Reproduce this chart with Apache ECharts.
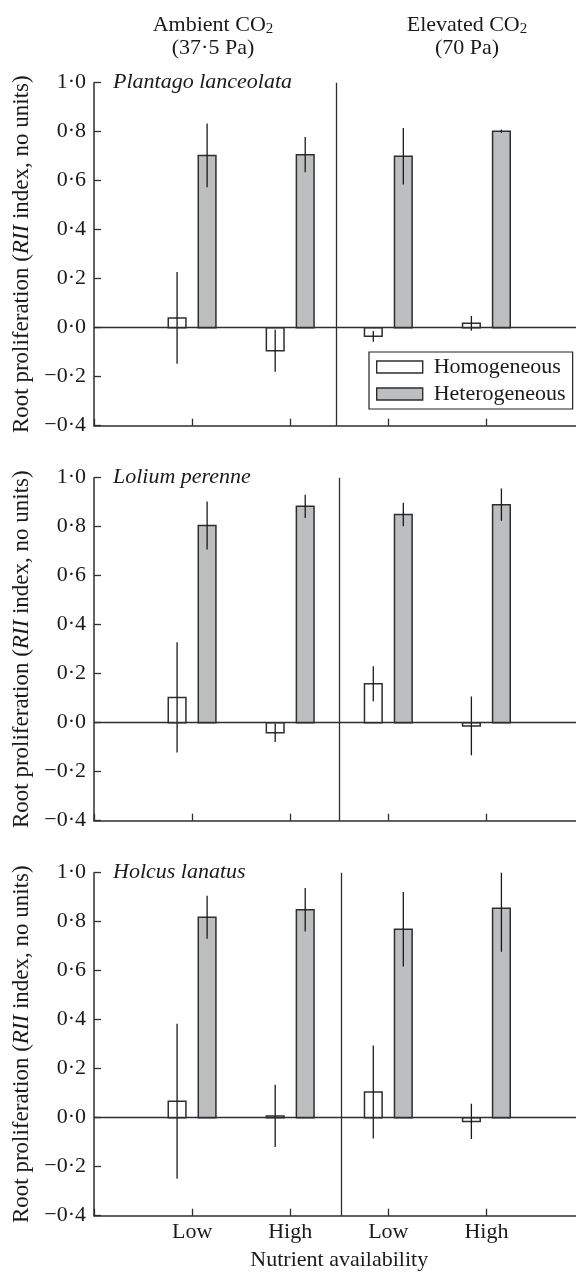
<!DOCTYPE html>
<html>
<head>
<meta charset="utf-8">
<script src="https://cdn.jsdelivr.net/npm/echarts@6/dist/echarts.min.js"></script>
<style>
html,body{margin:0;padding:0;background:#fff;}
#chart{width:576px;height:1273px;}
</style>
</head>
<body>
<div id="chart"></div>
<script>
// ---------- data ----------
const species = ['Plantago lanceolata', 'Lolium perenne', 'Holcus lanatus'];
const xLabels = ['Low', 'High', 'Low', 'High'];
const xPositions = [1, 2, 3, 4];
const yTicks = [-0.4, -0.2, 0, 0.2, 0.4, 0.6, 0.8, 1.0];
const yTickLabels = ['\u22120\u00b74', '\u22120\u00b72', '0\u00b70', '0\u00b72', '0\u00b74', '0\u00b76', '0\u00b78', '1\u00b70'];
const seriesNames = ['Homogeneous', 'Heterogeneous'];
const headers = [['Ambient CO', '(37\u00b75 Pa)'], ['Elevated CO', '(70 Pa)']];

const plantagoHomo    = [0.040, -0.094, -0.035, 0.018];
const plantagoHomoErr = [0.187, 0.086, 0.022, 0.030];
const plantagoHet     = [0.703, 0.706, 0.700, 0.802];
const plantagoHetErr  = [0.130, 0.072, 0.115, 0.007];

const loliumHomo    = [0.103, -0.041, 0.159, -0.013];
const loliumHomoErr = [0.225, 0.038, 0.071, 0.120];
const loliumHet     = [0.805, 0.883, 0.850, 0.890];
const loliumHetErr  = [0.098, 0.047, 0.048, 0.066];

const holcusHomo    = [0.067, 0.007, 0.105, -0.015];
const holcusHomoErr = [0.316, 0.127, 0.190, 0.072];
const holcusHet     = [0.818, 0.849, 0.769, 0.855];
const holcusHetErr  = [0.088, 0.089, 0.152, 0.178];

const dividerX = [2.47, 2.50, 2.52];

const panels = [
  [plantagoHomo, plantagoHomoErr, plantagoHet, plantagoHetErr],
  [loliumHomo, loliumHomoErr, loliumHet, loliumHetErr],
  [holcusHomo, holcusHomoErr, holcusHet, holcusHetErr]
];

// ---------- layout / style ----------
const FONT = 'Liberation Serif';
const INK = '#1a1a1a';
const AXIS = '#2e2e2e';
const HET_FILL = '#bdbebf';
const gridLeft = 94, gridWidth = 490.5, gridHeight = 343;
const gridTops = [82.7, 477.7, 872.7];
const Y_MIN = -0.4, Y_MAX = 1.0;
const barOffset = 0.153, barHalf = 0.09;

function yFmt(v) {
  const i = yTicks.findIndex(t => Math.abs(t - v) < 1e-6);
  return i >= 0 ? yTickLabels[i] : '';
}
function xFmt(v) {
  const i = xPositions.indexOf(Math.round(v));
  return (i >= 0 && Math.abs(v - xPositions[i]) < 1e-6) ? xLabels[i] : '';
}

function renderBar(fill) {
  return function (params, api) {
    const x = api.value(0), v = api.value(1), e = api.value(2);
    const pA = api.coord([x - barHalf, v]);
    const pB = api.coord([x + barHalf, 0]);
    const eTop = api.coord([x, Math.min(v + e, Y_MAX)]);
    const eBot = api.coord([x, Math.max(v - e, Y_MIN)]);
    return {
      type: 'group',
      children: [
        {
          type: 'rect',
          shape: {
            x: pA[0], y: Math.min(pA[1], pB[1]),
            width: pB[0] - pA[0], height: Math.abs(pB[1] - pA[1])
          },
          style: { fill: fill, stroke: AXIS, lineWidth: 1.5 }
        },
        {
          type: 'line',
          shape: { x1: eTop[0], y1: eTop[1], x2: eBot[0], y2: eBot[1] },
          style: { stroke: INK, lineWidth: 1.3 }
        }
      ]
    };
  };
}

const grids = [], xAxes = [], yAxes = [], series = [], graphics = [];

panels.forEach((p, k) => {
  grids.push({ left: gridLeft, top: gridTops[k], width: gridWidth, height: gridHeight, outerBoundsMode: 'none', containLabel: false });
  const last = k === panels.length - 1;
  xAxes.push({
    gridIndex: k, type: 'value', min: 0, max: 5, interval: 1, position: 'bottom',
    axisLine: { show: true, onZero: false, lineStyle: { color: AXIS, width: 1.5 } },
    axisTick: { show: true, inside: true, length: 7, lineStyle: { color: AXIS, width: 1.3 } },
    axisLabel: { show: last, formatter: xFmt, color: INK, fontFamily: FONT, fontSize: 22, margin: 6 },
    splitLine: { show: false },
    name: last ? 'Nutrient availability' : '',
    nameLocation: 'middle', nameGap: 34,
    nameTextStyle: { color: INK, fontFamily: FONT, fontSize: 22 }
  });
  yAxes.push({
    gridIndex: k, type: 'value', min: Y_MIN, max: Y_MAX, interval: 0.2,
    axisLine: { show: true, onZero: false, lineStyle: { color: AXIS, width: 1.5 } },
    axisTick: { show: true, inside: true, length: 7, lineStyle: { color: AXIS, width: 1.3 } },
    axisLabel: { formatter: yFmt, color: INK, fontFamily: FONT, fontSize: 22, margin: 8 },
    splitLine: { show: false },
    name: 'Root proliferation ({i|RII} index, no units)',
    nameLocation: 'middle', nameRotate: 90, nameGap: 52,
    nameTextStyle: {
      color: INK, fontFamily: FONT, fontSize: 23,
      rich: { i: { fontStyle: 'italic', fontFamily: FONT, fontSize: 23, color: INK } }
    }
  });
  const [homo, homoErr, het, hetErr] = p;
  series.push({
    type: 'custom', name: seriesNames[0], xAxisIndex: k, yAxisIndex: k,
    itemStyle: { color: '#fff', borderColor: AXIS },
    renderItem: renderBar('#fff'),
    encode: { x: 0, y: 1 },
    data: xPositions.map((x, i) => [x - barOffset, homo[i], homoErr[i]]),
    z: 3,
    markLine: {
      silent: true, symbol: ['none', 'none'], label: { show: false },
      lineStyle: { color: AXIS, width: 1.3, type: 'solid' },
      emphasis: { disabled: true },
      data: [{ yAxis: 0 }, { xAxis: dividerX[k] }]
    }
  });
  series.push({
    type: 'custom', name: seriesNames[1], xAxisIndex: k, yAxisIndex: k,
    itemStyle: { color: HET_FILL, borderColor: AXIS },
    renderItem: renderBar(HET_FILL),
    encode: { x: 0, y: 1 },
    data: xPositions.map((x, i) => [x + barOffset, het[i], hetErr[i]]),
    z: 3
  });
  graphics.push({
    type: 'text', x: gridLeft + 19, y: gridTops[k], z: 10,
    style: {
      text: species[k], fill: INK, font: 'italic 22px "Liberation Serif"',
      align: 'left', verticalAlign: 'middle'
    }
  });
});

const headerX = [213, 467];
headers.forEach((h, j) => {
  graphics.push({
    type: 'text', x: headerX[j], y: 25, z: 10,
    style: {
      text: '{a|' + h[0] + '}{s|2}',
      align: 'center', verticalAlign: 'middle',
      rich: {
        a: { fontFamily: FONT, fontSize: 22, lineHeight: 24, fill: INK, color: INK },
        s: { fontFamily: FONT, fontSize: 15, lineHeight: 10, verticalAlign: 'bottom', fill: INK, color: INK }
      }
    }
  });
  graphics.push({
    type: 'text', x: headerX[j], y: 48, z: 10,
    style: {
      text: h[1], fill: INK, font: '22px "Liberation Serif"',
      align: 'center', verticalAlign: 'middle'
    }
  });
});

const chart = echarts.init(document.getElementById('chart'), null, { renderer: 'canvas' });
chart.setOption({
  animation: false,
  backgroundColor: '#fff',
  grid: grids,
  xAxis: xAxes,
  yAxis: yAxes,
  legend: {
    show: true, orient: 'vertical', left: 369, top: 352,
    padding: [4, 7, 4, 7], itemGap: 5, itemWidth: 46, itemHeight: 12,
    borderColor: '#222', borderWidth: 1.2,
    selectedMode: false,
    textStyle: { fontFamily: FONT, fontSize: 22, color: INK, padding: [0, 0, 0, 6] },
    data: [
      { name: seriesNames[0], icon: 'rect', itemStyle: { color: '#fff', borderColor: AXIS, borderWidth: 1.4 } },
      { name: seriesNames[1], icon: 'rect', itemStyle: { color: HET_FILL, borderColor: AXIS, borderWidth: 1.4 } }
    ]
  },
  series: series,
  graphic: graphics
});
</script>
</body>
</html>
